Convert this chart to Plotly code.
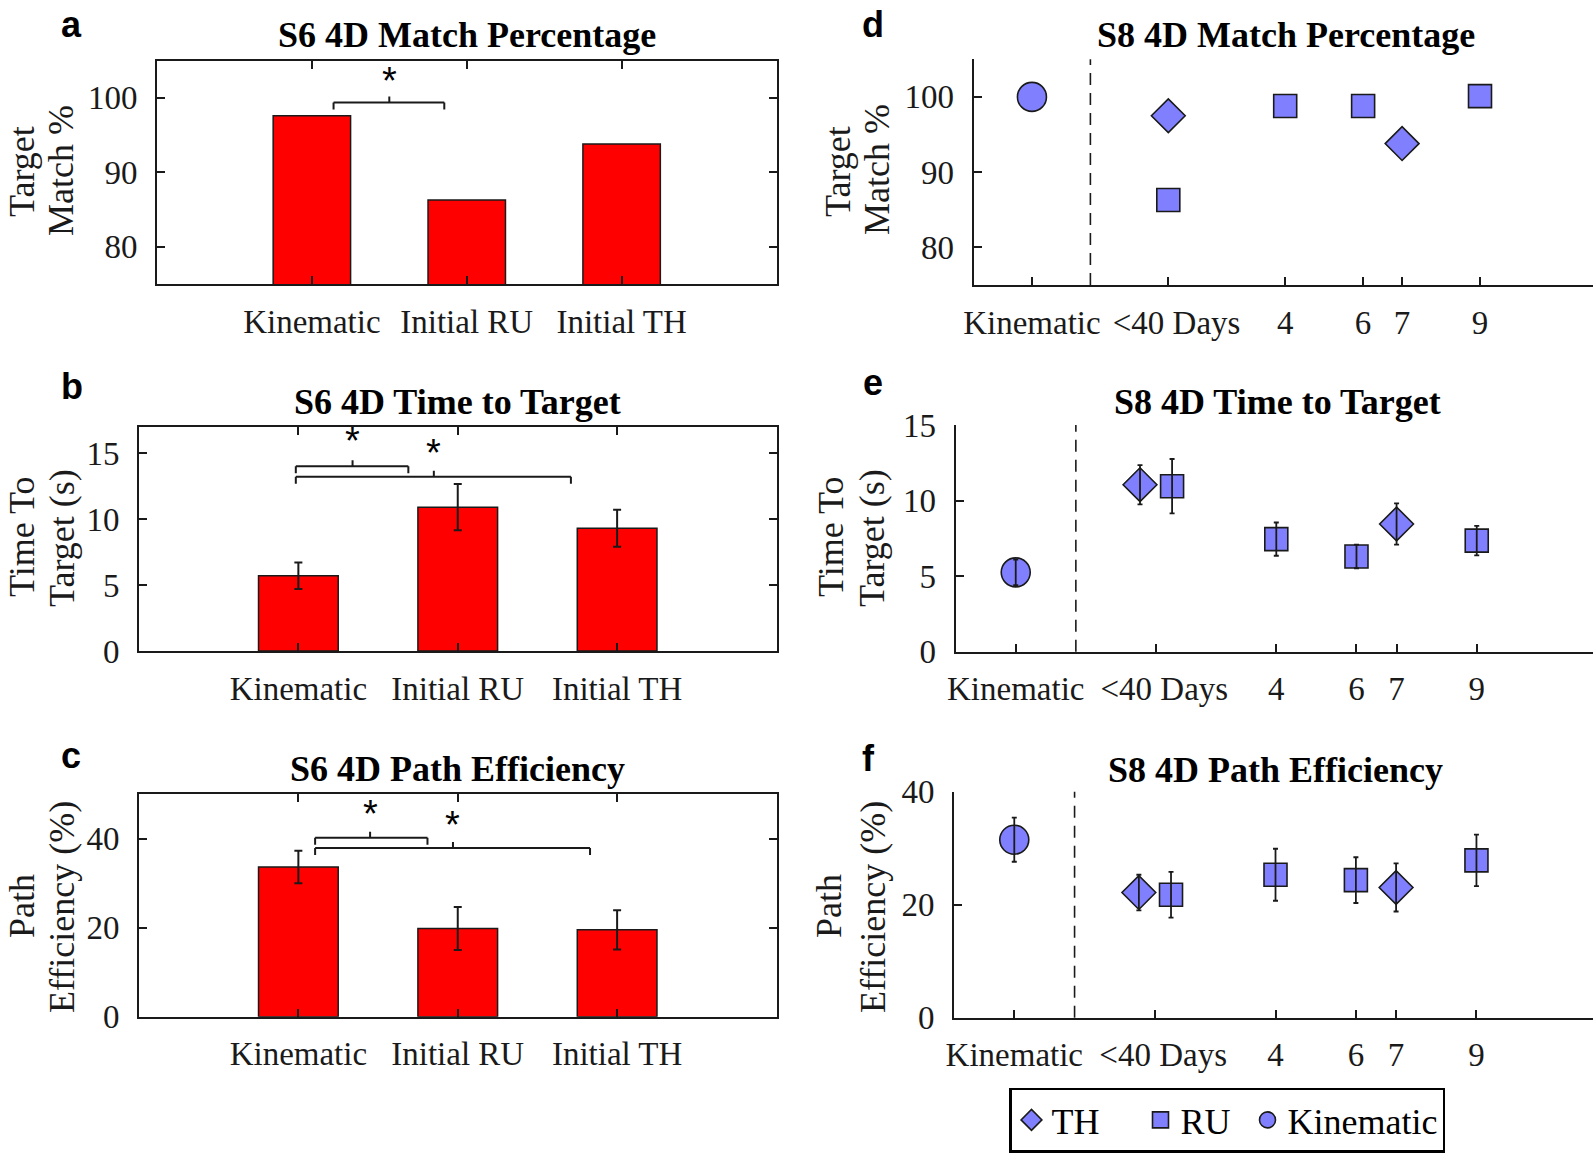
import plotly.graph_objects as go

W, H = 1593, 1154

# ---------------- S6 data (bar panels a-c) ----------------
s6_categories = ["Kinematic", "Initial RU", "Initial TH"]
s6_match = [97.6, 86.3, 93.8]
s6_time = [5.7, 10.9, 9.3]
s6_time_err = [1.0, 1.75, 1.4]
s6_path = [33.6, 19.8, 19.5]
s6_path_err = [3.65, 4.85, 4.4]

# significance brackets: (start, end, level, centre) in category units
s6_match_brackets = [(0.14, 0.855, 99.4, 0.5)]
s6_match_stars = [(0.5, 103.0)]
s6_time_brackets = [(-0.016, 0.69, 14.0, 0.34), (-0.016, 1.71, 13.2, 0.85)]
s6_time_stars = [(0.34, 16.3), (0.85, 15.4)]
s6_path_brackets = [(0.105, 0.81, 40.2, 0.45), (0.105, 1.83, 37.9, 0.97)]
s6_path_stars = [(0.45, 46.7), (0.97, 44.1)]

# ---------------- S8 data (scatter panels d-f) ----------------
s8_tick_vals = [-2.5, 1, 4, 6, 7, 9]
s8_tick_text = ["Kinematic", "\u00a0\u00a0<40 Days", "4", "6", "7", "9"]
s8_divider = -1

s8_kin_x = [-2.5]
s8_th_x_match = [1, 7]
s8_ru_x_match = [1, 4, 6, 9]
s8_th_x = [0.6, 7]
s8_ru_x = [1.4, 4, 6, 9]

s8_match_kin = [100.0]
s8_match_th = [97.5, 93.8]
s8_match_ru = [86.3, 98.8, 98.8, 100.1]

s8_time_kin = [5.25]
s8_time_kin_err = [0.85]
s8_time_th = [11.05, 8.45]
s8_time_th_err = [1.3, 1.37]
s8_time_ru = [10.95, 7.45, 6.3, 7.35]
s8_time_ru_err = [1.8, 1.1, 0.78, 0.98]

s8_path_kin = [31.5]
s8_path_kin_err = [3.9]
s8_path_th = [22.15, 23.05]
s8_path_th_err = [3.15, 4.25]
s8_path_ru = [21.75, 25.3, 24.35, 27.85]
s8_path_ru_err = [4.05, 4.6, 4.05, 4.55]

# ---------------- styling ----------------
SERIF = "Liberation Serif"
SANS = "Liberation Sans"
INK = "#1a1a1a"
RED = "#ff0000"
BLUE = "#8080ff"
TICK_FONT = dict(family=SERIF, size=33, color=INK)


def px_x(p):
    return p / W


def px_y(p):
    return 1 - p / H


fig = go.Figure()

# bar panels
bar_panels = [
    ("x", "y", s6_match, None),
    ("x2", "y2", s6_time, s6_time_err),
    ("x3", "y3", s6_path, s6_path_err),
]
for xa, ya, vals, err in bar_panels:
    fig.add_trace(go.Bar(
        x=s6_categories, y=vals, width=0.5, xaxis=xa, yaxis=ya,
        marker=dict(color=RED, line=dict(color=INK, width=1.5)),
        error_y=(dict(type="data", array=err, visible=True, color=INK,
                      thickness=2, width=4) if err else None),
        showlegend=False,
    ))

# scatter panels
MARK_LINE = dict(color=INK, width=1.6)
LEGEND_W = {"TH": 84, "RU": 62, "Kinematic": None}
scatter_panels = [
    ("x4", "y4", s8_th_x_match, s8_match_th, None,
     s8_ru_x_match, s8_match_ru, None, s8_match_kin, None, True),
    ("x5", "y5", s8_th_x, s8_time_th, s8_time_th_err,
     s8_ru_x, s8_time_ru, s8_time_ru_err, s8_time_kin, s8_time_kin_err, False),
    ("x6", "y6", s8_th_x, s8_path_th, s8_path_th_err,
     s8_ru_x, s8_path_ru, s8_path_ru_err, s8_path_kin, s8_path_kin_err, False),
]
for (xa, ya, thx, thy, the, rux, ruy, rue, kiny, kine, leg) in scatter_panels:
    groups = [
        ("TH", thx, thy, the, dict(symbol="diamond", size=26)),
        ("RU", rux, ruy, rue, dict(symbol="square", size=23)),
        ("Kinematic", s8_kin_x, kiny, kine, dict(symbol="circle", size=29)),
    ]
    for name, gx, gy, ge, mk in groups:
        kw = {}
        if leg and LEGEND_W[name]:
            kw["legendwidth"] = LEGEND_W[name]
        fig.add_trace(go.Scatter(
            x=gx, y=gy, mode="markers", name=name, legendgroup=name,
            showlegend=leg, xaxis=xa, yaxis=ya,
            marker=dict(color=BLUE, line=MARK_LINE, **mk), **kw
        ))
    # error bars drawn over the markers
    for name, gx, gy, ge, mk in groups:
        if ge:
            fig.add_trace(go.Scatter(
                x=gx, y=gy, mode="markers", legendgroup=name,
                showlegend=False, xaxis=xa, yaxis=ya, hoverinfo="skip",
                marker=dict(opacity=0, size=2),
                error_y=dict(type="data", array=ge, visible=True, color=INK,
                             thickness=1.8, width=2.5),
            ))

# ---------------- axes ----------------
box_common = dict(showline=True, linewidth=2, linecolor=INK, mirror="ticks",
                  ticks="inside", ticklen=8, tickwidth=1.5, tickcolor=INK,
                  showgrid=False, zeroline=False, tickfont=TICK_FONT)
open_common = dict(showline=True, linewidth=2, linecolor=INK, mirror=False,
                   ticks="inside", ticklen=8, tickwidth=1.5, tickcolor=INK,
                   showgrid=False, zeroline=False, tickfont=TICK_FONT)

# domains in pixels: (left, right, top, bottom)
dom = {
    1: (157, 776.5, 60.7, 284),
    2: (139, 776.5, 426.7, 651),
    3: (139, 776.5, 794, 1016.7),
    4: (973.5, 1593, 59.3, 285),
    5: (955.6, 1593, 425, 651.7),
    6: (954, 1593, 791.7, 1017.7),
}
y_ranges = {1: [75, 105], 2: [0, 17], 3: [0, 50], 4: [75, 105], 5: [0, 15], 6: [0, 40]}
y_ticks = {1: [80, 90, 100], 2: [0, 5, 10, 15], 3: [0, 20, 40],
           4: [80, 90, 100], 5: [0, 5, 10, 15], 6: [0, 20, 40]}

layout_axes = {}
for i in range(1, 7):
    l, r, t, b = dom[i]
    xs = "xaxis" if i == 1 else f"xaxis{i}"
    ys = "yaxis" if i == 1 else f"yaxis{i}"
    ax_anchor = "y" if i == 1 else f"y{i}"
    ay_anchor = "x" if i == 1 else f"x{i}"
    common = box_common if i <= 3 else open_common
    if i <= 3:
        xa = dict(common, domain=[px_x(l), min(px_x(r), 1)], anchor=ax_anchor,
                  type="category", range=[-1, 3], ticklabelstandoff=7, tickangle=0)
    else:
        xa = dict(common, domain=[px_x(l), min(px_x(r), 1)], anchor=ax_anchor,
                  range=[-4, 11.9], tickvals=s8_tick_vals, ticktext=s8_tick_text,
                  ticklabelstandoff=7, tickangle=0)
    ya = dict(common, domain=[px_y(b), px_y(t)], anchor=ay_anchor,
              range=y_ranges[i], tickvals=y_ticks[i], ticklabelstandoff=11)
    layout_axes[xs] = xa
    layout_axes[ys] = ya

fig.update_layout(**layout_axes)

# ---------------- shapes: brackets & dashed dividers ----------------
shapes = []
for ref, brackets in (("", s6_match_brackets), ("2", s6_time_brackets), ("3", s6_path_brackets)):
    xr, yr = "x" + ref, "y" + ref
    for x0, x1, yb, xm in brackets:
        shapes.append(dict(type="line", xref=xr, yref=yr, x0=x0, x1=x1, y0=yb, y1=yb,
                           line=dict(color=INK, width=2)))
        for xe in (x0, x1):
            shapes.append(dict(type="line", xref=xr, yref=yr, x0=xe, x1=xe,
                               ysizemode="pixel", yanchor=yb, y0=0, y1=-7,
                               line=dict(color=INK, width=2)))
        shapes.append(dict(type="line", xref=xr, yref=yr, x0=xm, x1=xm,
                           ysizemode="pixel", yanchor=yb, y0=0, y1=6,
                           line=dict(color=INK, width=2)))

for i in (4, 5, 6):
    shapes.append(dict(type="line", xref=f"x{i}", yref=f"y{i} domain",
                       x0=s8_divider, x1=s8_divider, y0=0, y1=1,
                       line=dict(color=INK, width=1.6, dash="12px,8px")))

fig.update_layout(shapes=shapes)

# ---------------- annotations ----------------
ann = []
for ref, stars in (("", s6_match_stars), ("2", s6_time_stars), ("3", s6_path_stars)):
    for xs_, ys_ in stars:
        ann.append(dict(xref="x" + ref, yref="y" + ref, x=xs_, y=ys_, text="*",
                        showarrow=False, xanchor="center", yanchor="middle", yshift=-5,
                        font=dict(family=SANS, size=38, color="#000")))

titles = [
    ("S6 4D Match Percentage", 466.7, 35),
    ("S6 4D Time to Target", 457.7, 402),
    ("S6 4D Path Efficiency", 457.7, 769),
    ("S8 4D Match Percentage", 1286, 35),
    ("S8 4D Time to Target", 1277, 402),
    ("S8 4D Path Efficiency", 1275, 770),
]
for txt, cx, cy in titles:
    ann.append(dict(xref="paper", yref="paper", x=px_x(cx), y=px_y(cy),
                    text=f"<b>{txt}</b>", showarrow=False, xanchor="center",
                    yanchor="middle", font=dict(family=SERIF, size=36, color="#000")))

# rotated y-axis titles, one annotation per line: (text, centre x, centre y)
ytitle_lines = [
    ("Target", 22, 172), ("Match %", 61, 170),
    ("Time To", 22, 537), ("Target (s)", 62, 538),
    ("Path", 22, 906), ("Efficiency (%)", 62, 907),
    ("Target", 838, 172), ("Match %", 877, 170),
    ("Time To", 831, 537), ("Target (s)", 872, 538),
    ("Path", 829, 906), ("Efficiency (%)", 873, 907),
]
for txt, cx, cy in ytitle_lines:
    ann.append(dict(xref="paper", yref="paper", x=px_x(cx), y=px_y(cy),
                    text=txt, textangle=-90, showarrow=False, xanchor="center",
                    yanchor="middle", font=dict(family=SERIF, size=36, color=INK)))

letters = [("a", 71.5, 24), ("b", 72, 386), ("c", 71, 755),
           ("d", 872.5, 24), ("e", 872.5, 382), ("f", 868, 758)]
for txt, cx, cy in letters:
    ann.append(dict(xref="paper", yref="paper", x=px_x(cx), y=px_y(cy),
                    text=f"<b>{txt}</b>", showarrow=False, xanchor="center",
                    yanchor="middle", font=dict(family=SANS, size=36, color="#000")))

fig.update_layout(annotations=ann)

fig.update_layout(
    width=W, height=H,
    margin=dict(l=0, r=0, t=0, b=0, pad=0, autoexpand=False),
    paper_bgcolor="white", plot_bgcolor="white",
    font=dict(family=SERIF, color=INK),
    legend=dict(orientation="h", x=px_x(1227), y=px_y(1120),
                xanchor="center", yanchor="middle",
                bordercolor="#000", borderwidth=2.5, bgcolor="white",
                font=dict(family=SERIF, size=36, color="#000"),
                traceorder="normal"),
)

fig.write_html("out.html",
               config={"displayModeBar": False},
               post_script="document.body.style.margin='0';"
                           "document.body.style.overflow='hidden';")
